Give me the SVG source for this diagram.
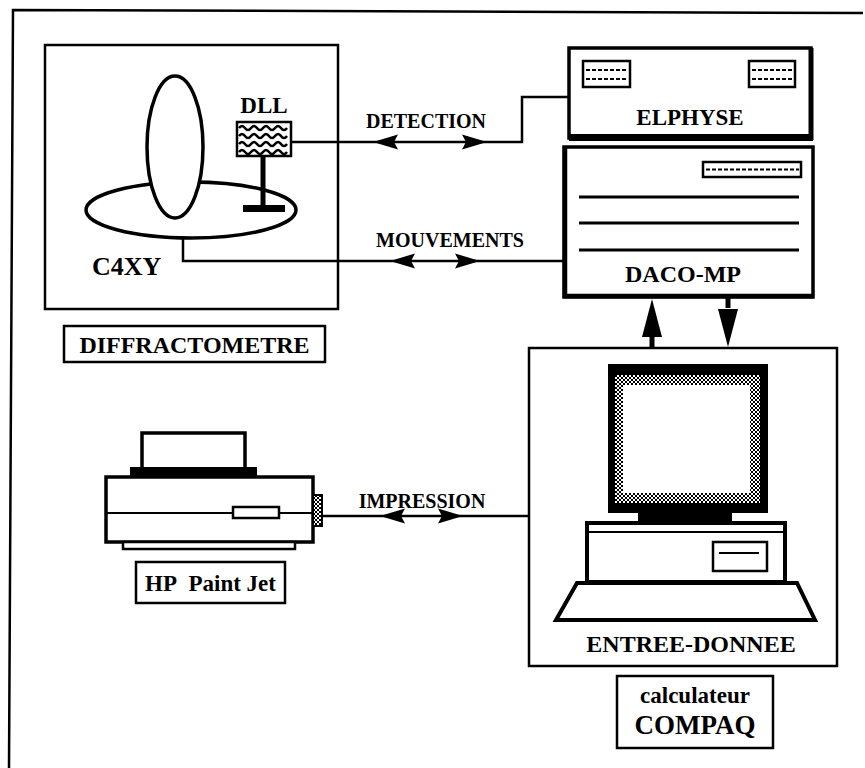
<svg xmlns="http://www.w3.org/2000/svg" xmlns:xlink="http://www.w3.org/1999/xlink" width="865" height="768" viewBox="0 0 865 768">
<style>
text{font-family:"Liberation Serif","Times New Roman",serif;font-weight:bold;fill:#000}
.b{fill:#fff;stroke:#000;stroke-width:2.5}
.b3{fill:#fff;stroke:#000;stroke-width:3.5}
.k{fill:#000}
.ln{fill:none;stroke:#000;stroke-width:2.5}
.dl{fill:none;stroke:#000;stroke-width:2;stroke-dasharray:4 2}
.wv{fill:none;stroke:#000;stroke-width:2.5}
</style>
<defs>
<path id="ar" d="M0,0 L-25,-7.5 L-21,0 L-25,7.5 Z" fill="#000"/>
<path id="av" d="M0,0 L-38,-10 L-38,10 Z" fill="#000"/>
<pattern id="hatch" width="4" height="4" patternUnits="userSpaceOnUse">
<rect width="4" height="4" fill="#fff"/>
<path d="M0,0 L4,4 M4,0 L0,4" stroke="#000" stroke-width="1"/>
</pattern>
</defs>

<path id="frame" d="M9,768 L13,10 L863,13" class="ln"/>

<g id="diffractometre">
<rect x="45" y="45" width="293" height="264" class="b"/>
<ellipse cx="191" cy="210" rx="105" ry="28" class="b3"/>
<ellipse cx="175" cy="147" rx="28" ry="71" class="b3"/>
<rect x="260.5" y="156" width="5" height="52" class="k"/>
<rect x="243" y="205" width="42" height="7" class="k"/>
<text x="92" y="275" font-size="26">C4XY</text>
</g>

<g id="dll">
<rect x="237" y="122" width="54" height="34" class="b"/>
<path class="wv" d="M239,128 q3,-4 6,0 t6,0 t6,0 t6,0 t6,0 t6,0 t6,0 t6,0"/>
<path class="wv" d="M239,136 q3,-4 6,0 t6,0 t6,0 t6,0 t6,0 t6,0 t6,0 t6,0"/>
<path class="wv" d="M239,144 q3,-4 6,0 t6,0 t6,0 t6,0 t6,0 t6,0 t6,0 t6,0"/>
<path class="wv" d="M239,152 q3,-4 6,0 t6,0 t6,0 t6,0 t6,0 t6,0 t6,0 t6,0"/>
<text x="264" y="113" font-size="23" text-anchor="middle">DLL</text>
</g>

<g id="label-diffractometre">
<rect x="64" y="326" width="261" height="36" class="b"/>
<text x="194.5" y="353" font-size="24" text-anchor="middle">DIFFRACTOMETRE</text>
</g>

<g id="elphyse">
<rect x="569" y="48" width="242" height="90" class="b3"/>
<line x1="811" y1="48" x2="811" y2="140" stroke="#000" stroke-width="5"/>
<rect x="569" y="134" width="244" height="7" class="k"/>
<rect x="583" y="61" width="47" height="26" class="b"/>
<line x1="586" y1="70" x2="628" y2="70" class="dl"/>
<line x1="586" y1="79" x2="628" y2="79" class="dl"/>
<rect x="749" y="61" width="46" height="26" class="b"/>
<line x1="752" y1="70" x2="793" y2="70" class="dl"/>
<line x1="752" y1="79" x2="793" y2="79" class="dl"/>
<text x="690" y="125" font-size="23" text-anchor="middle">ELPHYSE</text>
</g>

<g id="daco-mp">
<rect x="564" y="147" width="249" height="150" class="b3"/>
<line x1="564" y1="296" x2="813" y2="296" stroke="#000" stroke-width="4.5"/>
<line x1="565" y1="147" x2="565" y2="298" stroke="#000" stroke-width="4.5"/>
<rect x="703" y="162" width="98" height="15" class="b"/>
<line x1="706" y1="169.5" x2="799" y2="169.5" class="dl"/>
<line x1="579" y1="197" x2="799" y2="197" stroke="#000" stroke-width="3"/>
<line x1="579" y1="223" x2="799" y2="223" stroke="#000" stroke-width="3"/>
<line x1="579" y1="250" x2="799" y2="250" stroke="#000" stroke-width="3"/>
<text x="683" y="282" font-size="24" text-anchor="middle">DACO-MP</text>
</g>

<g id="printer">
<rect x="142" y="433" width="103" height="37" class="b3"/>
<rect x="130" y="467" width="127" height="11" class="k"/>
<rect x="106" y="477" width="207" height="65" class="b3"/>
<line x1="106" y1="513" x2="313" y2="513" stroke="#000" stroke-width="2"/>
<rect x="233" y="507" width="46" height="11" class="b"/>
<rect x="313" y="495" width="9" height="31" fill="url(#hatch)" stroke="#000" stroke-width="2"/>
<rect x="123" y="542" width="172" height="7" class="b"/>
</g>

<g id="label-hp">
<rect x="136" y="562" width="149" height="41" class="b"/>
<text x="210.5" y="591" font-size="23" text-anchor="middle">HP&#160; Paint Jet</text>
</g>

<g id="computer">
<rect x="529" y="348" width="308" height="318" class="b"/>
<rect x="608" y="364" width="160" height="149" class="k"/>
<rect x="615" y="375" width="145" height="128" fill="url(#hatch)"/>
<rect x="623" y="385" width="127" height="108" fill="#fff"/>
<rect x="638" y="512" width="94" height="10" class="k"/>
<rect x="587" y="523" width="198" height="59" fill="#fff" stroke="#000" stroke-width="4"/>
<line x1="589" y1="532" x2="783" y2="532" stroke="#000" stroke-width="2"/>
<rect x="713" y="542" width="54" height="29" class="b"/>
<line x1="719" y1="553" x2="759" y2="553" stroke="#000" stroke-width="2"/>
<polygon points="577,583 797,583 815,620 556,620" fill="#fff" stroke="#000" stroke-width="4" stroke-linejoin="miter"/>
<text x="691" y="652" font-size="24" text-anchor="middle">ENTREE-DONNEE</text>
</g>

<g id="label-compaq">
<rect x="617" y="676" width="156" height="72" class="b"/>
<text x="695" y="703" font-size="23" text-anchor="middle">calculateur</text>
<text x="695" y="734" font-size="27" text-anchor="middle">COMPAQ</text>
</g>

<g id="connectors">
<path class="ln" d="M291,142 H522 V97 H569"/>
<use xlink:href="#ar" transform="translate(373,142) rotate(180)"/>
<use xlink:href="#ar" transform="translate(487,142)"/>
<text x="426" y="128" font-size="20" text-anchor="middle">DETECTION</text>

<path class="ln" d="M183,238 V261 H564"/>
<use xlink:href="#ar" transform="translate(390,261) rotate(180)"/>
<use xlink:href="#ar" transform="translate(480,261)"/>
<text x="450" y="247" font-size="20" text-anchor="middle">MOUVEMENTS</text>

<path class="ln" d="M322,516 H529"/>
<use xlink:href="#ar" transform="translate(380,516) rotate(180)"/>
<use xlink:href="#ar" transform="translate(463,516)"/>
<text x="422" y="508" font-size="20" text-anchor="middle">IMPRESSION</text>

<rect x="649.5" y="336" width="5" height="13" class="k"/>
<use xlink:href="#av" transform="translate(652,299) rotate(-90)"/>
<rect x="725.5" y="297" width="5" height="11" class="k"/>
<use xlink:href="#av" transform="translate(728,347) rotate(90)"/>
</g>
</svg>
